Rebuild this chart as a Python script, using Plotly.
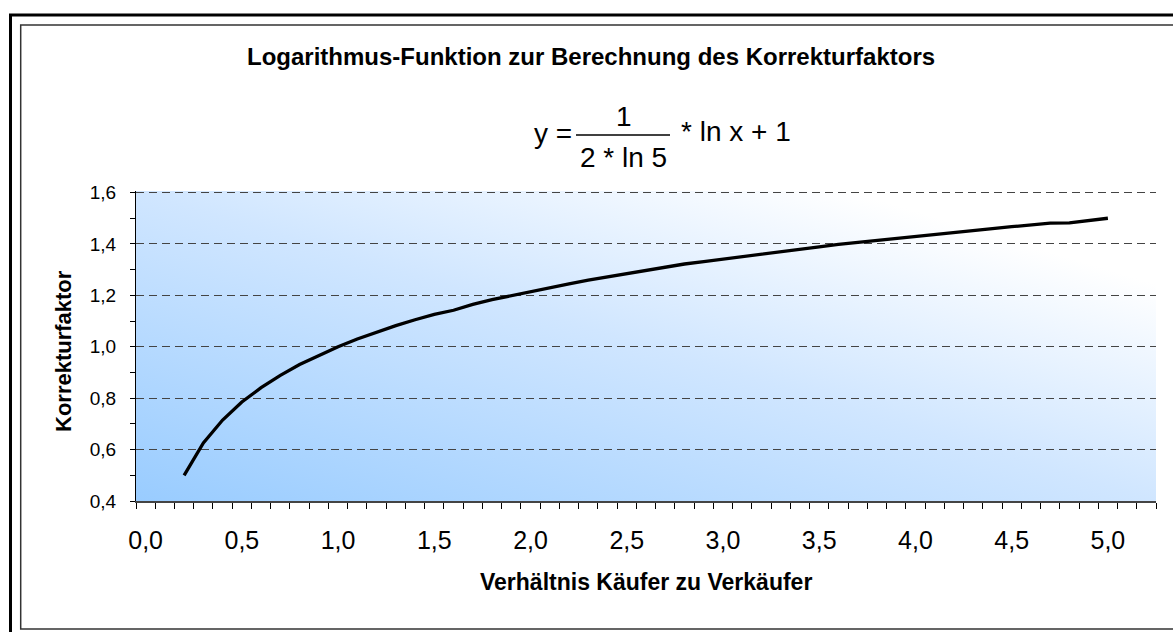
import base64
import plotly.graph_objects as go

# ---- data ----
ratio_x = [0.2, 0.3, 0.4, 0.5, 0.6, 0.7, 0.8, 0.9, 1.0, 1.1, 1.2, 1.3, 1.4, 1.5, 1.6, 1.7,
           1.8, 1.9, 2.0, 2.1, 2.2, 2.3, 2.4, 2.5, 2.6, 2.7, 2.8, 2.9, 3.0, 3.1, 3.2, 3.3,
           3.4, 3.5, 3.6, 3.7, 3.8, 3.9, 4.0, 4.1, 4.2, 4.3, 4.4, 4.5, 4.6, 4.7, 4.8, 4.9, 5.0]
korrektur = [0.500, 0.626, 0.715, 0.785, 0.841, 0.889, 0.931, 0.967, 1.000, 1.030, 1.057,
             1.082, 1.105, 1.126, 1.142, 1.165, 1.183, 1.199, 1.215, 1.231, 1.245, 1.259,
             1.272, 1.285, 1.297, 1.309, 1.322, 1.331, 1.341, 1.351, 1.361, 1.371, 1.382,
             1.389, 1.398, 1.406, 1.415, 1.423, 1.431, 1.438, 1.446, 1.453, 1.460, 1.467,
             1.474, 1.481, 1.482, 1.491, 1.500]
x_label_vals = [0.0, 0.5, 1.0, 1.5, 2.0, 2.5, 3.0, 3.5, 4.0, 4.5, 5.0]

title_text = "Logarithmus-Funktion zur Berechnung des Korrekturfaktors"
x_title = "Verhältnis Käufer zu Verkäufer"
y_title = "Korrekturfaktor"

# ---- layout geometry (pixels) ----
W, H = 1173, 632
PL, PR, PT, PB = 136, 1156, 191, 501
FONT = "Arial, Liberation Sans, sans-serif"


def fx(px):
    return (px - PL) / (PR - PL)


def fy(py):
    return (PB - py) / (PB - PT)


fig = go.Figure()
fig.add_trace(go.Scatter(x=ratio_x, y=korrektur, mode="lines",
                         line=dict(color="black", width=3.3), hoverinfo="skip"))

# diagonal gradient background for the plot area
svg = ('<svg xmlns="http://www.w3.org/2000/svg" width="100" height="100" viewBox="0 0 100 100" '
       'preserveAspectRatio="none"><defs><linearGradient id="g" x1="0" y1="1" x2="1" y2="0">'
       '<stop offset="0" stop-color="#99CCFF"/><stop offset="0.5" stop-color="#D0E6FF"/>'
       '<stop offset="0.85" stop-color="#FFFFFF"/><stop offset="1" stop-color="#FFFFFF"/>'
       '</linearGradient></defs><rect width="100" height="100" fill="url(#g)"/></svg>')
src = "data:image/svg+xml;base64," + base64.b64encode(svg.encode()).decode()

shapes = [
    # outer thick frame (left and top visible)
    dict(type="path", xref="paper", yref="paper",
         path=f"M {fx(10.5)} {fy(700)} L {fx(10.5)} {fy(15)} L {fx(1250)} {fy(15)}",
         line=dict(color="black", width=3)),
    # inner chart-area border
    dict(type="rect", xref="paper", yref="paper",
         x0=fx(20.7), x1=fx(1250), y0=fy(629), y1=fy(25),
         line=dict(color="#333333", width=1.5)),
    # fraction bar of the formula
    dict(type="line", xref="paper", yref="paper",
         x0=fx(576), x1=fx(670), y0=fy(135), y1=fy(135),
         line=dict(color="black", width=1.5)),
]

annotations = [
    dict(text=f"<b>{title_text}</b>", x=fx(591), y=fy(57), font=dict(size=24)),
    dict(text="y =", x=fx(574), y=fy(133), xanchor="right", font=dict(size=28)),
    dict(text="1", x=fx(624), y=fy(117), font=dict(size=28)),
    dict(text="2 * ln 5", x=fx(623), y=fy(157), font=dict(size=28)),
    dict(text="* ln x + 1", x=fx(679), y=fy(131), xanchor="left", font=dict(size=28)),
    dict(text=f"<b>{x_title}</b>", x=fx(646), y=fy(582), font=dict(size=23)),
    dict(text=f"<b>{y_title}</b>", x=fx(63), y=fy(351), textangle=-90, font=dict(size=22)),
]
for a in annotations:
    a.update(xref="paper", yref="paper", showarrow=False)
    a.setdefault("xanchor", "center")
    a.setdefault("yanchor", "middle")
    a["font"].update(family=FONT, color="black")

fig.update_layout(
    width=W, height=H,
    margin=dict(l=PL, r=W - PR, t=PT, b=H - PB, pad=0),
    paper_bgcolor="white", plot_bgcolor="rgba(0,0,0,0)",
    separators=",.",
    showlegend=False,
    font=dict(family=FONT, color="black"),
    shapes=shapes, annotations=annotations,
    images=[dict(source=src, xref="paper", yref="paper", x=0, y=1, sizex=1, sizey=1,
                 xanchor="left", yanchor="top", sizing="stretch", layer="below")],
)

fig.update_xaxes(
    range=[-0.05, 5.25], tickmode="array", tickvals=x_label_vals, tickformat=".1f",
    ticks="", showgrid=False, zeroline=False,
    showline=True, linecolor="#444444", linewidth=1.5,
    tickfont=dict(size=25, family=FONT, color="black"), ticklabelstandoff=16,
    minor=dict(ticks="outside", tickmode="linear", tick0=-0.05, dtick=0.1,
               ticklen=6, tickcolor="black", tickwidth=1, showgrid=False),
)
fig.update_yaxes(
    range=[0.4, 1.606], tickmode="linear", tick0=0.4, dtick=0.2, tickformat=".1f",
    ticks="outside", ticklen=5, tickcolor="black", tickwidth=1,
    showgrid=True, gridcolor="#444444", gridwidth=1.2, griddash="8px,5px",
    zeroline=False, showline=True, linecolor="black", linewidth=1,
    tickfont=dict(size=19, family=FONT, color="black"), ticklabelstandoff=10,
    minor=dict(ticks="outside", dtick=0.1, ticklen=5, tickcolor="black", showgrid=False),
)

fig.write_html("out.html", config={"displayModeBar": False},
               post_script="document.body.style.margin='0';document.body.style.overflow='hidden';")
